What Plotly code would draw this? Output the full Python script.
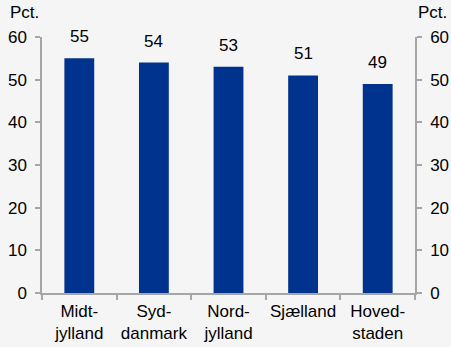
import plotly.graph_objects as go

regions = ["Midt-<br>jylland", "Syd-<br>danmark", "Nord-<br>jylland", "Sjælland", "Hoved-<br>staden"]
shares = [55, 54, 53, 51, 49]
value_labels = ["55", "54", "53", "51", "49"]

font = dict(family="Liberation Sans, Arial, sans-serif", size=17, color="#000000")
axis_grey = "#a6a6a6"

fig = go.Figure()
fig.add_trace(go.Bar(x=regions, y=shares, marker_color="#00338d", marker_line_width=0,
                     hoverinfo="skip", showlegend=False))
# invisible trace so the right-hand axis is drawn
fig.add_trace(go.Scatter(x=regions, y=shares, mode="none", yaxis="y2",
                         hoverinfo="skip", showlegend=False))

for r, v, t in zip(regions, shares, value_labels):
    fig.add_annotation(x=r, y=v, text=t, showarrow=False, yanchor="bottom",
                       yshift=10, font=font)

yax = dict(range=[0, 60], dtick=10, showgrid=False, zeroline=False,
           showline=True, linecolor=axis_grey, linewidth=1.5,
           ticks="outside", ticklen=5, tickcolor=axis_grey, tickwidth=1.5,
           tickfont=font, ticklabelstandoff=5, automargin=False)

fig.update_layout(
    width=451, height=347,
    margin=dict(l=42, r=36, t=37, b=54),
    paper_bgcolor="#f5f5f5", plot_bgcolor="#f5f5f5",
    font=font,
    bargap=0.6,
    xaxis=dict(showgrid=False, showline=True, linecolor=axis_grey, linewidth=1.5,
               ticks="outside", ticklen=5, tickcolor=axis_grey, tickwidth=1.5,
               tickson="boundaries", tickfont=font, tickangle=0, automargin=False,
               ticklabelstandoff=2),
    yaxis=yax,
    yaxis2=dict(yax, overlaying="y", side="right"),
)

fig.add_annotation(text="Pct.", xref="paper", yref="paper", x=0, y=1, xshift=-34,
                   yshift=13, xanchor="left", yanchor="bottom", showarrow=False, font=font)
fig.add_annotation(text="Pct.", xref="paper", yref="paper", x=1, y=1, xshift=1,
                   yshift=13, xanchor="left", yanchor="bottom", showarrow=False, font=font)

fig.write_html("out.html", config={"displayModeBar": False},
               post_script="document.body.style.margin='0';")
